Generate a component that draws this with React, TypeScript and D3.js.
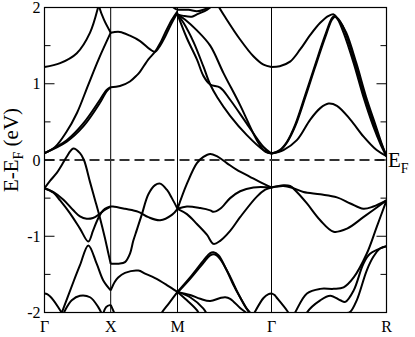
import React from "react";
import * as d3 from "d3";

// High-symmetry points (path length, cubic lattice units)
const kPoints = [0, 0.5, 1.0, 1.7071, 2.5731];
const kLabels = ["Γ", "X", "M", "Γ", "R"];
const yTicks = [-2, -1, 0, 1, 2];
const yMinorTicks = [-1.5, -0.5, 0.5, 1.5];

// ---- Γ–X ----
const gx1 = [[0, 1.22], [0.118, 1.27], [0.244, 1.4], [0.344, 1.67], [0.406, 2.01], [0.42, 2.12]];
const gx2 = [[0.4, 2.12], [0.411, 2.02], [0.449, 1.84], [0.5, 1.67]];
const gx3 = [[0, 0.09], [0.08, 0.17], [0.163, 0.36], [0.246, 0.62], [0.329, 0.98], [0.411, 1.33], [0.5, 1.67]];
const gx4 = [[0, 0.09], [0.168, 0.26], [0.293, 0.48], [0.419, 0.79], [0.469, 0.92], [0.5, 0.955]];
const gx5 = [[0, 0.09], [0.168, 0.24], [0.293, 0.44], [0.419, 0.75], [0.469, 0.9], [0.5, 0.955]];
const gx6 = [[0, -0.37], [0.043, -0.27], [0.093, -0.17], [0.133, -0.06], [0.163, 0.03], [0.218, 0.15], [0.268, 0.09], [0.298, 0.0], [0.344, -0.29], [0.381, -0.52], [0.419, -0.76], [0.456, -1.02], [0.479, -1.2], [0.5, -1.36]];
const gx7 = [[0, -0.37], [0.068, -0.42], [0.143, -0.52], [0.218, -0.66], [0.268, -0.74], [0.319, -0.77], [0.366, -0.76], [0.406, -0.72], [0.449, -0.66], [0.5, -0.61]];
const gx8 = [[0, -0.37], [0.068, -0.43], [0.118, -0.53], [0.193, -0.7], [0.268, -0.9], [0.331, -1.07], [0.366, -0.93], [0.396, -0.8], [0.426, -0.7], [0.456, -0.64], [0.5, -0.61]];
const gx9 = [[0.095, -2.16], [0.118, -2.06], [0.218, -1.6], [0.268, -1.38], [0.331, -1.12], [0.394, -1.36], [0.444, -1.58], [0.5, -1.71]];
const gx10 = [[0, -1.75], [0.02, -1.76], [0.068, -1.84], [0.118, -1.97], [0.143, -2.03], [0.16, -2.1]];
const gx11 = [[0.118, -2.12], [0.156, -1.97], [0.206, -1.84], [0.268, -1.78], [0.344, -1.8], [0.406, -1.93], [0.444, -2.06]];
const gx12 = [[0.43, -2.1], [0.465, -1.93], [0.5, -1.9]];

// ---- X–M ----
const xm1 = [[0.5, 1.67], [0.569, 1.68], [0.644, 1.63], [0.72, 1.56], [0.795, 1.45], [0.832, 1.42], [0.87, 1.5], [0.908, 1.62], [0.958, 1.8], [1.0, 1.93]];
const xm2 = [[0.5, 0.955], [0.569, 0.97], [0.644, 1.03], [0.695, 1.11], [0.72, 1.16], [0.782, 1.32], [0.832, 1.42], [0.87, 1.53], [0.908, 1.67], [0.958, 1.84], [1.0, 1.95]];
const xm3 = [[0.93, 2.08], [0.97, 2.0], [1.0, 1.97]];
const xm4 = [[0.5, -0.61], [0.517, -0.61], [0.607, -0.64], [0.707, -0.68], [0.782, -0.75], [0.87, -0.79], [0.958, -0.72], [1.0, -0.64]];
const xm5 = [[0.5, -1.36], [0.56, -1.36], [0.607, -1.34], [0.644, -1.23], [0.669, -1.06], [0.695, -0.92], [0.732, -0.72], [0.782, -0.45], [0.832, -0.33], [0.87, -0.31], [0.92, -0.39], [0.958, -0.5], [1.0, -0.64]];
const xm6 = [[0.5, -1.71], [0.53, -1.6], [0.556, -1.54], [0.607, -1.48], [0.707, -1.45], [0.757, -1.49], [0.832, -1.55], [0.92, -1.64], [1.0, -1.73]];
const xm7 = [[0.86, -2.06], [0.883, -2.0], [0.94, -1.87], [1.0, -1.73]];
const xm8 = [[0.5, -1.9], [0.52, -1.98], [0.545, -2.1]];

// ---- M–Γ ----
const mg1 = [[1.0, 1.91], [1.07, 1.6], [1.146, 1.32], [1.196, 1.1], [1.246, 0.99], [1.321, 0.95], [1.396, 0.79], [1.52, 0.48], [1.647, 0.17], [1.7071, 0.085]];
const mg2 = [[1.0, 1.91], [1.045, 1.8], [1.12, 1.55], [1.196, 1.22], [1.246, 0.99], [1.3, 0.82], [1.396, 0.58], [1.52, 0.33], [1.647, 0.13], [1.7071, 0.085]];
const mg3 = [[1.0, 1.91], [1.058, 1.84], [1.146, 1.7], [1.246, 1.5], [1.346, 1.14], [1.471, 0.72], [1.597, 0.26], [1.66, 0.11], [1.7071, 0.085]];
const mg4 = [[1.29, 2.1], [1.308, 2.02], [1.371, 1.84], [1.471, 1.58], [1.571, 1.36], [1.647, 1.25], [1.7071, 1.22]];
const mg5 = [[1.0, 1.97], [1.083, 1.97], [1.146, 1.95], [1.195, 1.97], [1.246, 2.02], [1.27, 2.08]];
const mg6 = [[1.0, 1.91], [1.045, 1.89], [1.108, 1.88], [1.146, 1.91], [1.221, 1.97], [1.271, 2.04], [1.29, 2.1]];
const mg7 = [[1.0, -0.64], [1.071, -0.31], [1.146, -0.04], [1.195, 0.04], [1.246, 0.08], [1.296, 0.05], [1.371, -0.04], [1.447, -0.13], [1.545, -0.22], [1.622, -0.29], [1.7071, -0.36]];
const mg8 = [[1.0, -0.64], [1.071, -0.61], [1.171, -0.63], [1.246, -0.66], [1.271, -0.68], [1.321, -0.64], [1.396, -0.5], [1.471, -0.41], [1.571, -0.36], [1.7071, -0.36]];
const mg9 = [[1.0, -0.64], [1.071, -0.71], [1.146, -0.84], [1.221, -0.98], [1.271, -1.1], [1.321, -1.06], [1.396, -0.93], [1.471, -0.75], [1.597, -0.48], [1.66, -0.39], [1.7071, -0.36]];
const mg10 = [[1.0, -1.73], [1.095, -1.54], [1.195, -1.32], [1.246, -1.22], [1.271, -1.21], [1.308, -1.25], [1.371, -1.45], [1.421, -1.64], [1.471, -1.8], [1.52, -1.95], [1.545, -2.0], [1.56, -2.06]];
const mg11 = [[1.0, -1.74], [1.095, -1.56], [1.195, -1.35], [1.246, -1.25], [1.283, -1.24], [1.321, -1.3], [1.396, -1.53], [1.447, -1.72], [1.496, -1.88], [1.545, -2.02], [1.56, -2.08]];
const mg12 = [[1.0, -1.73], [1.095, -1.77], [1.171, -1.82], [1.246, -1.85], [1.321, -1.81], [1.359, -1.8], [1.396, -1.82], [1.471, -1.94], [1.52, -2.01], [1.55, -2.08]];
const mg13 = [[1.0, -1.73], [1.071, -1.84], [1.146, -1.97], [1.17, -2.05]];
const mg14 = [[1.0, -1.73], [1.095, -1.8], [1.195, -1.95], [1.221, -2.02]];
const mg15 = [[1.56, -2.07], [1.58, -2.0], [1.647, -1.81], [1.685, -1.76], [1.7071, -1.75]];

// ---- Γ–R ----
const gr1 = [[1.7071, 1.22], [1.769, 1.23], [1.847, 1.29], [1.923, 1.45], [1.999, 1.64], [2.074, 1.8], [2.137, 1.89], [2.175, 1.91], [2.205, 1.85], [2.25, 1.67], [2.326, 1.27], [2.399, 0.83], [2.474, 0.44], [2.53, 0.2], [2.5731, 0.05]];
const gr2 = [[1.7071, 0.085], [1.769, 0.13], [1.824, 0.24], [1.885, 0.46], [1.961, 0.85], [2.036, 1.25], [2.112, 1.64], [2.162, 1.86], [2.18, 1.89], [2.21, 1.85], [2.25, 1.73], [2.326, 1.33], [2.399, 0.89], [2.474, 0.49], [2.53, 0.23], [2.5731, 0.05]];
const gr3 = [[1.7071, 0.085], [1.769, 0.12], [1.824, 0.23], [1.885, 0.44], [1.961, 0.82], [2.036, 1.22], [2.112, 1.61], [2.162, 1.84], [2.185, 1.88], [2.215, 1.83], [2.27, 1.67], [2.346, 1.27], [2.419, 0.83], [2.494, 0.44], [2.54, 0.2], [2.5731, 0.05]];
const gr4 = [[1.7071, 0.085], [1.797, 0.13], [1.898, 0.26], [1.999, 0.53], [2.074, 0.68], [2.137, 0.74], [2.2, 0.71], [2.301, 0.53], [2.399, 0.31], [2.499, 0.13], [2.5731, 0.05]];
const gr5 = [[1.7071, -0.36], [1.797, -0.34], [1.872, -0.37], [1.948, -0.42], [2.074, -0.45], [2.2, -0.49], [2.301, -0.57], [2.399, -0.64], [2.474, -0.61], [2.5731, -0.53]];
const gr6 = [[1.7071, -0.36], [1.797, -0.33], [1.847, -0.34], [1.898, -0.42], [1.974, -0.57], [2.074, -0.79], [2.175, -0.94], [2.276, -0.9], [2.399, -0.75], [2.5731, -0.53]];
const gr7 = [[1.86, -2.08], [1.885, -2.0], [1.974, -1.75], [2.074, -1.69], [2.175, -1.69], [2.25, -1.67], [2.326, -1.54], [2.424, -1.23], [2.499, -0.88], [2.5731, -0.53]];
const gr8 = [[1.96, -2.08], [1.974, -2.0], [2.074, -1.84], [2.15, -1.78], [2.225, -1.84], [2.263, -1.86], [2.326, -1.71], [2.399, -1.36], [2.449, -1.23], [2.5731, -1.13]];
const gr9 = [[2.2, -2.02], [2.27, -2.01], [2.301, -1.99], [2.349, -1.84], [2.424, -1.45], [2.474, -1.27], [2.524, -1.16], [2.5731, -1.13]];
const gr10 = [[1.7071, -1.75], [1.73, -1.77], [1.744, -1.8], [1.822, -1.97], [1.85, -2.05]];

const bands = [
  gx1, gx2, gx3, gx4, gx5, gx6, gx7, gx8, gx9, gx10, gx11, gx12,
  xm1, xm2, xm3, xm4, xm5, xm6, xm7, xm8,
  mg1, mg2, mg3, mg4, mg5, mg6, mg7, mg8, mg9, mg10, mg11, mg12, mg13, mg14, mg15,
  gr1, gr2, gr3, gr4, gr5, gr6, gr7, gr8, gr9, gr10,
];

const W = 415;
const H = 337;
const FONT = "Liberation Serif, DejaVu Serif, serif";

export default function App() {
  const x = d3.scaleLinear().domain(kPoints).range([44.5, 110.7, 177.5, 271.5, 386.5]);
  const y = d3.scaleLinear().domain([-2, 2]).range([312.5, 7.5]);
  const line = d3
    .line<number[]>()
    .x((d) => x(d[0]))
    .y((d) => y(d[1]))
    .curve(d3.curveCatmullRom.alpha(0.5));

  const x0 = x(kPoints[0]);
  const x1 = x(kPoints[kPoints.length - 1]);
  const yTop = y(2);
  const yBot = y(-2);

  return (
    <svg width={W} height={H} style={{ position: "absolute", left: 0, top: 0, background: "#fff" }}>
      <defs>
        <clipPath id="plotclip">
          <rect x={x0} y={yTop} width={x1 - x0} height={yBot - yTop} />
        </clipPath>
      </defs>
      <rect x={0} y={0} width={W} height={H} fill="#fff" />
      {kPoints.slice(1, -1).map((k, i) => (
        <line key={"v" + i} x1={x(k)} x2={x(k)} y1={yTop} y2={yBot} stroke="#000" strokeWidth={1} />
      ))}
      <line x1={x0} x2={x1} y1={y(0)} y2={y(0)} stroke="#333" strokeWidth={2.2} strokeDasharray="10,5" />
      <g clipPath="url(#plotclip)">
        {bands.map((b, i) => (
          <path key={"b" + i} d={line(b) || ""} fill="none" stroke="#000" strokeWidth={2} strokeLinejoin="round" />
        ))}
      </g>
      <rect x={x0} y={yTop} width={x1 - x0} height={yBot - yTop} fill="none" stroke="#000" strokeWidth={1.2} />
      {yTicks.map((t) => (
        <g key={"t" + t}>
          <line x1={x0} x2={x0 + 10} y1={y(t)} y2={y(t)} stroke="#000" strokeWidth={1} />
          <line x1={x1 - 10} x2={x1} y1={y(t)} y2={y(t)} stroke="#000" strokeWidth={1} />
          <text x={x0 - 4} y={y(t) + 5.5} textAnchor="end" fontFamily={FONT} fontSize={16}>
            {String(t)}
          </text>
        </g>
      ))}
      {yMinorTicks.map((t) => (
        <g key={"m" + t}>
          <line x1={x0} x2={x0 + 6} y1={y(t)} y2={y(t)} stroke="#000" strokeWidth={1} />
          <line x1={x1 - 6} x2={x1} y1={y(t)} y2={y(t)} stroke="#000" strokeWidth={1} />
        </g>
      ))}
      {kPoints.map((k, i) => (
        <text key={"k" + i} x={x(k)} y={332} textAnchor="middle" fontFamily={FONT} fontSize={16}>
          {kLabels[i]}
        </text>
      ))}
      <text transform="translate(18,150) rotate(-90)" textAnchor="middle" fontFamily={FONT} fontSize={21}>
        E-E<tspan dy={5} fontSize={14}>F</tspan>
        <tspan dy={-5}> (eV)</tspan>
      </text>
      <text x={388} y={167} fontFamily={FONT} fontSize={21}>
        E<tspan dy={6} fontSize={14}>F</tspan>
      </text>
    </svg>
  );
}
